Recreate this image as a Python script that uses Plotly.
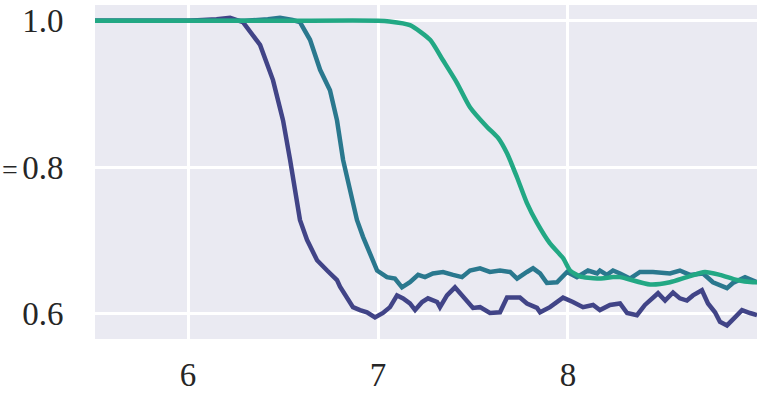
import plotly.graph_objects as go

# Series A (dark blue)
xa = [5.51, 6.0, 6.15, 6.221, 6.289, 6.379, 6.447, 6.500, 6.537, 6.574, 6.589, 6.626, 6.679, 6.732, 6.784,
      6.800, 6.837, 6.868, 6.905, 6.942, 6.984, 7.026, 7.063, 7.100, 7.132, 7.168, 7.195, 7.232, 7.263,
      7.311, 7.326, 7.363, 7.405, 7.432, 7.468, 7.500, 7.537, 7.589, 7.642, 7.679, 7.747, 7.784, 7.837,
      7.853, 7.905, 7.974, 8.026, 8.079, 8.132, 8.168, 8.221, 8.274, 8.311, 8.363, 8.405, 8.442, 8.474,
      8.511, 8.553, 8.589, 8.626, 8.658, 8.705, 8.737, 8.774, 8.800, 8.837, 8.879, 8.916, 8.958, 8.995]
ya = [1.000, 1.000, 1.002, 1.004, 0.998, 0.967, 0.919, 0.864, 0.810, 0.755, 0.728, 0.701, 0.673, 0.659, 0.646,
      0.637, 0.621, 0.609, 0.605, 0.602, 0.595, 0.601, 0.609, 0.625, 0.621, 0.614, 0.605, 0.616, 0.621,
      0.616, 0.609, 0.625, 0.636, 0.628, 0.616, 0.608, 0.609, 0.601, 0.602, 0.622, 0.622, 0.614, 0.608,
      0.602, 0.609, 0.622, 0.616, 0.609, 0.612, 0.605, 0.612, 0.614, 0.601, 0.598, 0.612, 0.621, 0.628,
      0.618, 0.629, 0.621, 0.618, 0.625, 0.632, 0.614, 0.602, 0.589, 0.584, 0.595, 0.605, 0.601, 0.598]

# Series B (teal)
xb = [5.51, 6.3, 6.42, 6.484, 6.55, 6.589, 6.642, 6.695, 6.747, 6.784, 6.816, 6.868, 6.889, 6.921, 6.974,
      6.995, 7.047, 7.089, 7.126, 7.168, 7.211, 7.247, 7.289, 7.342, 7.395, 7.442, 7.484, 7.537,
      7.589, 7.642, 7.695, 7.732, 7.784, 7.816, 7.853, 7.889, 7.942, 7.995, 8.047, 8.105, 8.153, 8.168,
      8.205, 8.237, 8.274, 8.326, 8.379, 8.447, 8.537, 8.589, 8.642, 8.711, 8.763, 8.837, 8.868, 8.932, 8.995]
yb = [1.000, 1.000, 1.002, 1.004, 1.001, 0.998, 0.974, 0.933, 0.905, 0.864, 0.810, 0.755, 0.728, 0.705, 0.669,
      0.659, 0.650, 0.648, 0.636, 0.643, 0.653, 0.650, 0.655, 0.657, 0.653, 0.650, 0.659, 0.662,
      0.657, 0.659, 0.657, 0.648, 0.657, 0.662, 0.655, 0.642, 0.643, 0.657, 0.650, 0.659, 0.655, 0.659,
      0.653, 0.659, 0.655, 0.648, 0.657, 0.657, 0.655, 0.659, 0.653, 0.655, 0.643, 0.635, 0.642, 0.650, 0.643]

# Series C (green)
xc = [5.51, 6.5, 7.0, 7.06, 7.168, 7.274, 7.342, 7.416, 7.484, 7.574, 7.632, 7.679, 7.732, 7.784, 7.837,
      7.905, 7.974, 8.011, 8.063, 8.153, 8.237, 8.274, 8.432, 8.537, 8.626, 8.721, 8.800, 8.889, 8.974, 8.995]
yc = [1.000, 1.000, 1.000, 0.999, 0.994, 0.974, 0.946, 0.915, 0.882, 0.855, 0.840, 0.819, 0.786, 0.751, 0.724,
      0.696, 0.676, 0.659, 0.651, 0.648, 0.650, 0.650, 0.640, 0.643, 0.650, 0.657, 0.653, 0.646, 0.643, 0.643]

x_ticks = [6, 7, 8]
y_ticks = [0.6, 0.8, 1.0]
y_tick_labels = ["0.6", "0.8", "1.0"]

fig = go.Figure()
fig.add_trace(go.Scatter(x=xa, y=ya, mode="lines", line=dict(color="#414487", width=4.5)))
fig.add_trace(go.Scatter(x=xb, y=yb, mode="lines", line=dict(color="#2A788E", width=4.5)))
fig.add_trace(go.Scatter(x=xc, y=yc, mode="lines", line=dict(color="#22A884", width=4.5, shape="spline", smoothing=0.6)))

font = dict(family="Liberation Serif, DejaVu Serif, serif", size=33, color="#262626")

fig.update_layout(
    width=772, height=393,
    margin=dict(l=95, r=15, t=5, b=54, autoexpand=False),
    paper_bgcolor="white",
    plot_bgcolor="#EAEAF2",
    showlegend=False,
    font=font,
    xaxis=dict(range=[5.51, 8.995], tickvals=x_ticks, showgrid=True, gridcolor="white", gridwidth=2.5,
               zeroline=False, showline=False, ticks="outside", ticklen=6, tickcolor="rgba(0,0,0,0)",
               tickfont=font, automargin=False),
    yaxis=dict(range=[0.5655, 1.0215], tickvals=y_ticks, ticktext=y_tick_labels, showgrid=True,
               gridcolor="white", gridwidth=2.5, zeroline=False, showline=False, ticks="outside",
               ticklen=24, tickcolor="rgba(0,0,0,0)", tickfont=font, automargin=False),
    annotations=[dict(text="=", xref="paper", yref="paper", x=(0 - 95) / 662, y=(339 - 170) / 334,
                      xanchor="left", yanchor="middle", showarrow=False,
                      font=dict(family="Liberation Serif, serif", size=28, color="#262626"))],
)

fig.write_html("out.html", config={"displayModeBar": False},
               post_script="document.body.style.margin='0';document.body.style.padding='0';")
